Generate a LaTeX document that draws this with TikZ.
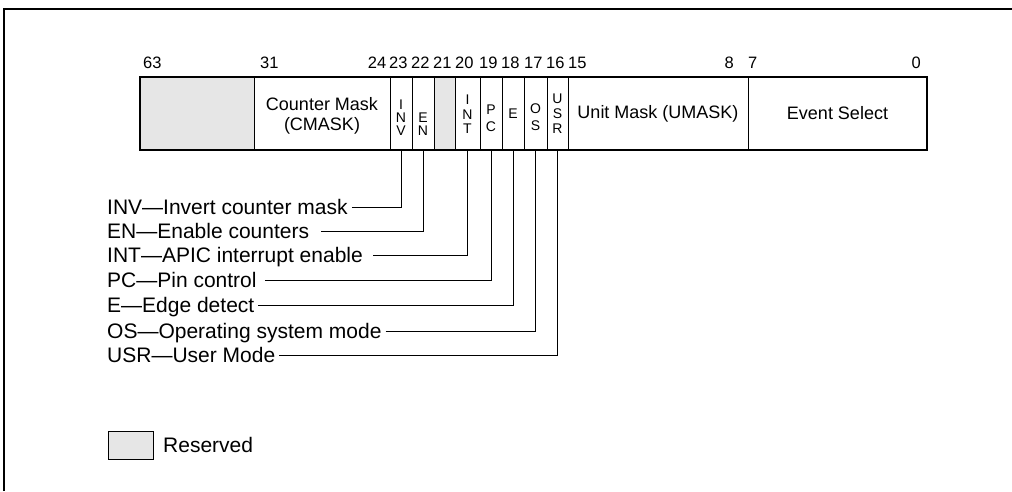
\documentclass[tikz,border=0pt]{standalone}
\usepackage{fontspec}
\setmainfont{Liberation Sans}
\definecolor{resgray}{HTML}{E6E6E6}
\begin{document}
\begin{tikzpicture}[x=1pt,y=-1pt,
  field/.style={draw, line width=0.8pt, minimum height=73pt, inner sep=0pt, align=center,
    font=\fontsize{18}{20}\selectfont},
  resfield/.style={field, fill=resgray},
  vtext/.style={font=\fontsize{14}{#1}\selectfont, align=center, inner sep=0pt},
  bitnum/.style={font=\fontsize{16.5}{19}\selectfont, inner sep=0pt},
  desc/.style={font=\fontsize{21}{24}\selectfont, inner xsep=4pt, inner ysep=0pt,
    text height=16pt, text depth=3pt, anchor=base west},
  conn/.style={line width=0.8pt},
]
\useasboundingbox (0,0) rectangle (1012,491);
% frame (top and left)
\draw[line width=2pt] (4,491) -- (4,9) -- (1012,9);

% register fields
\node[resfield, minimum width=114pt] (res1) at (197,113.5) {};
\node[field, minimum width=136pt] (cmask) at (322,113.5) {};
\node[field, minimum width=22pt] (inv) at (401,113.5) {};
\node[field, minimum width=22pt] (en) at (423,113.5) {};
\node[resfield, minimum width=21pt] (res2) at (444.5,113.5) {};
\node[field, minimum width=25pt] (int) at (467.5,113.5) {};
\node[field, minimum width=22pt] (pc) at (491,113.5) {};
\node[field, minimum width=22pt] (e) at (513,113.5) {};
\node[field, minimum width=23pt] (os) at (535.5,113.5) {};
\node[field, minimum width=21pt] (usr) at (557.5,113.5) {};
\node[field, minimum width=180pt] (umask) at (658,113.5) {Unit Mask (UMASK)};
\node[field, minimum width=179pt] (evsel) at (837.5,113.5) {Event Select};
\draw[line width=2pt] (res1.north west) rectangle (evsel.south east);

% field texts
\node[font=\fontsize{18}{20}\selectfont, align=center, inner sep=0pt] (cmasktxt) at (322,116) {Counter Mask\\(CMASK)};
\node[vtext=13] (invtxt) at (401,118) {I\\N\\V};
\node[vtext=12.5] (entxt) at (423,124) {E\\N};
\node[vtext=14.5] (inttxt) at (467.5,114.5) {I\\N\\T};
\node[vtext=17] (pctxt) at (491,118) {P\\C};
\node[vtext=15] (etxt) at (513,114) {E};
\node[vtext=17] (ostxt) at (535.5,117.5) {O\\S};
\node[vtext=15] (usrtxt) at (557.5,113.5) {U\\S\\R};

% bit numbers
\node[bitnum, anchor=base west] (b63) at (143,68) {63};
\node[bitnum, anchor=base west] (b31) at (260,68) {31};
\node[bitnum, anchor=base east] (b24) at (386.5,68) {24};
\node[bitnum, anchor=base west] (b23) at (389,68) {23};
\node[bitnum, anchor=base west] (b22) at (411,68) {22};
\node[bitnum, anchor=base west] (b21) at (433,68) {21};
\node[bitnum, anchor=base west] (b20) at (455,68) {20};
\node[bitnum, anchor=base west] (b19) at (479,68) {19};
\node[bitnum, anchor=base west] (b18) at (501,68) {18};
\node[bitnum, anchor=base west] (b17) at (524,68) {17};
\node[bitnum, anchor=base west] (b16) at (546,68) {16};
\node[bitnum, anchor=base west] (b15) at (568,68) {15};
\node[bitnum, anchor=base east] (b8) at (734,68) {8};
\node[bitnum, anchor=base west] (b7) at (748,68) {7};
\node[bitnum, anchor=base east] (b0) at (921,68) {0};

% descriptions
\node[desc] (dinv) at (103,214) {INV—Invert counter mask};
\node[desc] (den) at (103,238) {EN—Enable counters};
\node[desc] (dint) at (103,262) {INT—APIC interrupt enable};
\node[desc] (dpc) at (103,287) {PC—Pin control};
\node[desc] (de) at (103,312) {E—Edge detect};
\node[desc] (dos) at (103,338) {OS—Operating system mode};
\node[desc] (dusr) at (103,362) {USR—User Mode};

\draw[conn] (dinv.east) -| (inv.south);
\draw[conn] ([xshift=8pt]den.east) -| (en.south);
\draw[conn] ([xshift=6pt]dint.east) -| (int.south);
\draw[conn] ([xshift=4pt]dpc.east) -| (pc.south);
\draw[conn] (de.east) -| (e.south);
\draw[conn] (dos.east) -| (os.south);
\draw[conn] (dusr.east) -| (usr.south);

% legend
\node[draw, line width=0.8pt, fill=resgray, minimum width=45pt, minimum height=28pt, inner sep=0pt] (leg) at (130.5,445) {};
\node[font=\fontsize{21}{24}\selectfont, anchor=west, inner sep=0pt] (legtxt) at (163,445) {Reserved};
\end{tikzpicture}
\end{document}
